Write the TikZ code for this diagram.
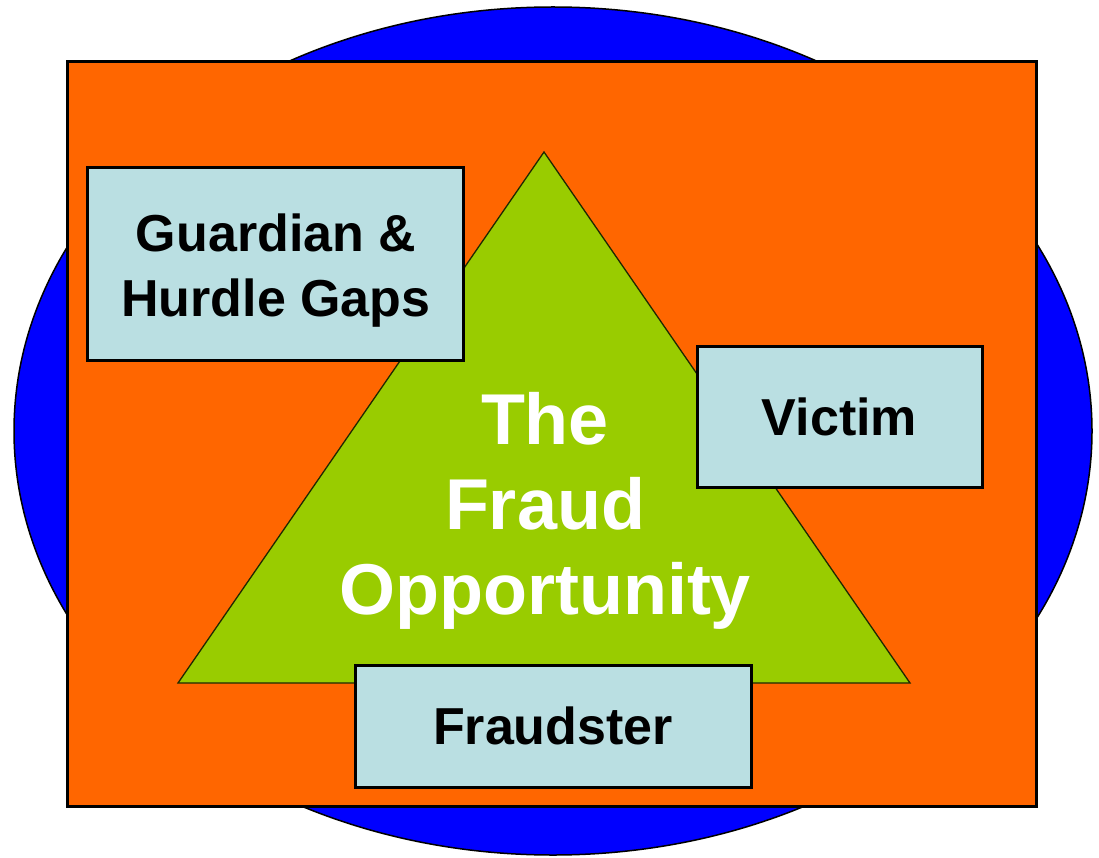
\documentclass[tikz,border=0pt]{standalone}
\usepackage{fontspec}
\setmainfont{Liberation Sans}
\definecolor{fblue}{HTML}{0000FF}
\definecolor{forange}{HTML}{FF6600}
\definecolor{fgreen}{HTML}{99CC00}
\definecolor{fbox}{HTML}{BADFE2}
\tikzset{
  labelbox/.style={draw=black, line width=3pt, fill=fbox, inner sep=0pt,
    align=center, font=\fontsize{52}{65}\selectfont\bfseries, text=black},
  boxtext/.style={align=center, font=\fontsize{52}{65}\selectfont\bfseries, text=black, inner sep=0pt},
  titletext/.style={align=center, font=\fontsize{72}{85}\selectfont\bfseries, text=white, inner sep=0pt}
}
\begin{document}
\begin{tikzpicture}[x=1pt,y=-1pt]
\useasboundingbox (0,0) rectangle (1099,858);
% blue ellipse
\draw[fill=fblue, line width=1.5pt] (553,431) ellipse [x radius=539, y radius=424];
% orange frame
\draw[fill=forange, line width=3pt] (67,62) rectangle (1036,806);
% triangle
\coordinate (apex) at (544,152);
\coordinate (bl) at (178,683);
\coordinate (br) at (910,683);
\draw[fill=fgreen, draw=black!80!fgreen, line width=1.3pt, line join=miter] (apex) -- (bl) -- (br) -- cycle;
\node[titletext] (title) at (545,511) {The\\Fraud\\Opportunity};
% boxes
\node[labelbox, minimum width=376, minimum height=192] (guard) at (275,264) {};
\node[boxtext] (guardtext) at (276,271) {Guardian \&\\Hurdle Gaps};
\node[labelbox, minimum width=285, minimum height=141] (victim) at (839.5,416.5) {Victim};
\node[labelbox, minimum width=396, minimum height=122] (fraudster) at (553,726) {Fraudster};
\end{tikzpicture}
\end{document}
